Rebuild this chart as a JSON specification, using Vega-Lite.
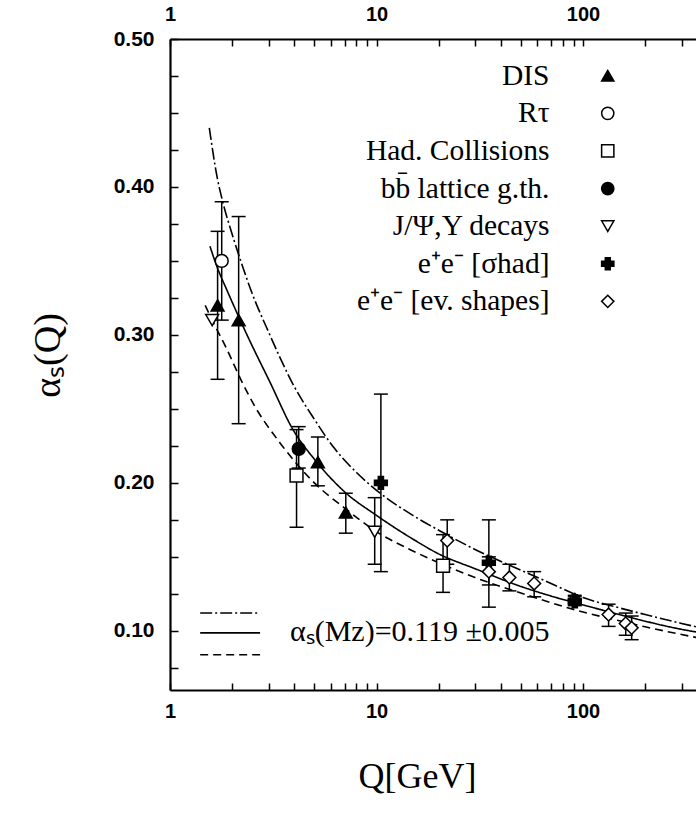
{
  "$schema": "https://vega.github.io/schema/vega-lite/v6.json",
  "width": 540,
  "height": 651,
  "autosize": {"type": "none"},
  "padding": {"left": 170, "top": 39, "right": 0, "bottom": 131},
  "background": "white",
  "config": {
    "font": "Liberation Serif",
    "view": {"stroke": null},
    "axis": {
      "grid": false,
      "domainColor": "black",
      "domainWidth": 2.2,
      "tickColor": "black",
      "tickWidth": 1.5,
      "labelFont": "Liberation Sans",
      "labelFontWeight": "bold",
      "labelFontSize": 20,
      "labelColor": "black",
      "labelFlush": false,
      "labelOverlap": false,
      "titleFont": "Liberation Serif",
      "titleFontWeight": "normal",
      "titleColor": "black"
    },
    "legend": {
      "orient": "none",
      "legendX": 423,
      "legendY": 22,
      "padding": 0,
      "labelAlign": "right",
      "labelOffset": -73,
      "labelFont": "Liberation Serif",
      "labelFontSize": 29.5,
      "labelColor": "black",
      "labelLimit": 0,
      "symbolSize": 150,
      "symbolStrokeWidth": 1.5,
      "rowPadding": 6.6
    }
  },
  "datasets": {
    "points": [
      {"exp": "DIS", "Q": 1.7, "a": 0.32, "lo": 0.27, "hi": 0.37},
      {"exp": "DIS", "Q": 2.15, "a": 0.31, "lo": 0.24, "hi": 0.38},
      {"exp": "DIS", "Q": 5.2, "a": 0.214, "lo": 0.198, "hi": 0.231},
      {"exp": "DIS", "Q": 7.1, "a": 0.18, "lo": 0.166, "hi": 0.193},
      {"exp": "Rτ", "Q": 1.78, "a": 0.35, "lo": 0.31, "hi": 0.39},
      {"exp": "Had. Collisions", "Q": 4.1, "a": 0.205, "lo": 0.17, "hi": 0.236},
      {"exp": "Had. Collisions", "Q": 21, "a": 0.144, "lo": 0.126, "hi": 0.165},
      {"exp": "bb̄ lattice g.th.", "Q": 4.2, "a": 0.223, "lo": 0.21, "hi": 0.238},
      {"exp": "J/Ψ,Y decays", "Q": 1.6, "a": 0.31, "lo": null, "hi": null},
      {"exp": "J/Ψ,Y decays", "Q": 9.8, "a": 0.167, "lo": 0.145, "hi": 0.19},
      {"exp": "e⁺e⁻ [σhad]", "Q": 10.5, "a": 0.2, "lo": 0.14, "hi": 0.26},
      {"exp": "e⁺e⁻ [σhad]", "Q": 35, "a": 0.146, "lo": 0.116, "hi": 0.175},
      {"exp": "e⁺e⁻ [ev. shapes]", "Q": 91.2, "a": 0.121, "lo": 0.118, "hi": 0.124},
      {"exp": "e⁺e⁻ [σhad]", "Q": 91.2, "a": 0.12, "lo": 0.117, "hi": 0.123},
      {"exp": "e⁺e⁻ [ev. shapes]", "Q": 22, "a": 0.161, "lo": 0.145, "hi": 0.175},
      {"exp": "e⁺e⁻ [ev. shapes]", "Q": 35, "a": 0.14, "lo": 0.131, "hi": 0.15},
      {"exp": "e⁺e⁻ [ev. shapes]", "Q": 44, "a": 0.136, "lo": 0.127, "hi": 0.145},
      {"exp": "e⁺e⁻ [ev. shapes]", "Q": 58, "a": 0.132, "lo": 0.123, "hi": 0.14},
      {"exp": "e⁺e⁻ [ev. shapes]", "Q": 133, "a": 0.111, "lo": 0.103, "hi": 0.118},
      {"exp": "e⁺e⁻ [ev. shapes]", "Q": 161, "a": 0.105, "lo": 0.097, "hi": 0.112},
      {"exp": "e⁺e⁻ [ev. shapes]", "Q": 172, "a": 0.102, "lo": 0.094, "hi": 0.11}
    ],
    "curves": [
      {"curve": "upper", "Q": 1.55, "a": 0.44},
      {"curve": "upper", "Q": 1.7, "a": 0.405},
      {"curve": "upper", "Q": 1.8, "a": 0.39},
      {"curve": "upper", "Q": 2, "a": 0.368},
      {"curve": "upper", "Q": 2.2, "a": 0.35},
      {"curve": "upper", "Q": 2.5, "a": 0.328},
      {"curve": "upper", "Q": 3, "a": 0.302},
      {"curve": "upper", "Q": 4, "a": 0.265},
      {"curve": "upper", "Q": 5, "a": 0.243},
      {"curve": "upper", "Q": 6.2, "a": 0.224},
      {"curve": "upper", "Q": 8, "a": 0.207},
      {"curve": "upper", "Q": 10, "a": 0.195},
      {"curve": "upper", "Q": 15, "a": 0.178},
      {"curve": "upper", "Q": 20, "a": 0.168},
      {"curve": "upper", "Q": 30, "a": 0.155},
      {"curve": "upper", "Q": 50, "a": 0.141},
      {"curve": "upper", "Q": 70, "a": 0.132},
      {"curve": "upper", "Q": 100, "a": 0.1225},
      {"curve": "upper", "Q": 150, "a": 0.1155},
      {"curve": "upper", "Q": 200, "a": 0.111},
      {"curve": "upper", "Q": 300, "a": 0.105},
      {"curve": "upper", "Q": 400, "a": 0.101},
      {"curve": "central", "Q": 1.56, "a": 0.36},
      {"curve": "central", "Q": 1.7, "a": 0.345},
      {"curve": "central", "Q": 1.89, "a": 0.33},
      {"curve": "central", "Q": 2.36, "a": 0.3},
      {"curve": "central", "Q": 3.05, "a": 0.268},
      {"curve": "central", "Q": 3.94, "a": 0.236},
      {"curve": "central", "Q": 5, "a": 0.216},
      {"curve": "central", "Q": 7, "a": 0.194},
      {"curve": "central", "Q": 10, "a": 0.178},
      {"curve": "central", "Q": 15, "a": 0.162},
      {"curve": "central", "Q": 20, "a": 0.152},
      {"curve": "central", "Q": 30, "a": 0.142},
      {"curve": "central", "Q": 50, "a": 0.13},
      {"curve": "central", "Q": 70, "a": 0.1235},
      {"curve": "central", "Q": 100, "a": 0.1175},
      {"curve": "central", "Q": 150, "a": 0.111},
      {"curve": "central", "Q": 200, "a": 0.1065},
      {"curve": "central", "Q": 300, "a": 0.101},
      {"curve": "central", "Q": 400, "a": 0.098},
      {"curve": "lower", "Q": 1.48, "a": 0.32},
      {"curve": "lower", "Q": 1.6, "a": 0.31},
      {"curve": "lower", "Q": 1.89, "a": 0.29},
      {"curve": "lower", "Q": 2.2, "a": 0.27},
      {"curve": "lower", "Q": 2.52, "a": 0.254},
      {"curve": "lower", "Q": 3.41, "a": 0.227},
      {"curve": "lower", "Q": 5, "a": 0.2},
      {"curve": "lower", "Q": 7, "a": 0.183},
      {"curve": "lower", "Q": 10, "a": 0.167},
      {"curve": "lower", "Q": 15, "a": 0.154},
      {"curve": "lower", "Q": 20, "a": 0.146},
      {"curve": "lower", "Q": 30, "a": 0.136},
      {"curve": "lower", "Q": 50, "a": 0.1255},
      {"curve": "lower", "Q": 70, "a": 0.119},
      {"curve": "lower", "Q": 100, "a": 0.1127},
      {"curve": "lower", "Q": 150, "a": 0.1068},
      {"curve": "lower", "Q": 200, "a": 0.1027},
      {"curve": "lower", "Q": 300, "a": 0.0975},
      {"curve": "lower", "Q": 400, "a": 0.094}
    ]
  },
  "resolve": {"axis": {"x": "independent", "y": "independent"}},
  "layer": [
    {
      "data": {"name": "curves"},
      "mark": {"type": "line", "color": "black", "strokeWidth": 1.6, "interpolate": "monotone"},
      "encoding": {
        "x": {
          "field": "Q", "type": "quantitative",
          "scale": {"type": "log", "domain": [1, 412], "nice": false},
          "axis": {
            "orient": "bottom",
            "values": [1, 2, 3, 4, 5, 6, 7, 8, 9, 10, 20, 30, 40, 50, 60, 70, 80, 90, 100, 200, 300, 400],
            "labelExpr": "indexof([1, 10, 100], datum.value) >= 0 ? format(datum.value, 'd') : ''",
            "tickSize": -7,
            "labelPadding": 18,
            "title": "Q[GeV]",
            "titleFontSize": 36,
            "titleX": 247,
            "titleY": 86,
            "titleBaseline": "middle",
            "titleAlign": "center",
            "titleAngle": 0
          }
        },
        "y": {
          "field": "a", "type": "quantitative",
          "scale": {"domain": [0.06, 0.5], "nice": false, "zero": false},
          "axis": {
            "orient": "left",
            "values": [0.075, 0.1, 0.125, 0.15, 0.175, 0.2, 0.225, 0.25, 0.275, 0.3, 0.325, 0.35, 0.375, 0.4, 0.425, 0.45, 0.475, 0.5],
            "labelExpr": "indexof([0.1, 0.2, 0.3, 0.4, 0.5], datum.value) >= 0 ? format(datum.value, '.2f') : ''",
            "labelFontSize": 21,
            "tickSize": -8,
            "labelPadding": 24,
            "title": "αₛ(Q)",
            "titleFontSize": 38,
            "titleX": -122,
            "titleY": 316,
            "titleAngle": -90,
            "titleBaseline": "middle",
            "titleAlign": "center"
          }
        },
        "strokeDash": {
          "field": "curve", "type": "nominal",
          "scale": {"domain": ["upper", "central", "lower"], "range": [[12, 3, 2, 3], [1, 0], [8, 5]]},
          "legend": null
        },
        "detail": {"field": "curve"}
      }
    },
    {
      "data": {"name": "points"},
      "transform": [{"filter": "datum.lo != null"}],
      "mark": {"type": "rule", "color": "black", "strokeWidth": 1.5},
      "encoding": {
        "x": {"field": "Q", "type": "quantitative", "scale": {"type": "log", "domain": [1, 412], "nice": false}, "axis": null},
        "y": {"field": "lo", "type": "quantitative", "scale": {"domain": [0.06, 0.5], "nice": false, "zero": false}, "axis": null},
        "y2": {"field": "hi"}
      }
    },
    {
      "data": {"name": "points"},
      "transform": [{"filter": "datum.lo != null"}],
      "mark": {"type": "point", "shape": "stroke", "size": 196, "filled": false, "stroke": "black", "strokeWidth": 1.5, "opacity": 1},
      "encoding": {
        "x": {"field": "Q", "type": "quantitative", "scale": {"type": "log", "domain": [1, 412], "nice": false}, "axis": null},
        "y": {"field": "lo", "type": "quantitative", "scale": {"domain": [0.06, 0.5], "nice": false, "zero": false}, "axis": null}
      }
    },
    {
      "data": {"name": "points"},
      "transform": [{"filter": "datum.lo != null"}],
      "mark": {"type": "point", "shape": "stroke", "size": 196, "filled": false, "stroke": "black", "strokeWidth": 1.5, "opacity": 1},
      "encoding": {
        "x": {"field": "Q", "type": "quantitative", "scale": {"type": "log", "domain": [1, 412], "nice": false}, "axis": null},
        "y": {"field": "hi", "type": "quantitative", "scale": {"domain": [0.06, 0.5], "nice": false, "zero": false}, "axis": null}
      }
    },
    {
      "data": {"name": "points"},
      "mark": {"type": "point", "filled": true, "size": 165, "strokeWidth": 1.5, "opacity": 1},
      "encoding": {
        "x": {
          "field": "Q", "type": "quantitative",
          "scale": {"type": "log", "domain": [1, 412], "nice": false},
          "axis": {
            "orient": "top",
            "values": [1, 2, 3, 4, 5, 6, 7, 8, 9, 10, 20, 30, 40, 50, 60, 70, 80, 90, 100, 200, 300, 400],
            "labelExpr": "indexof([1, 10, 100], datum.value) >= 0 ? format(datum.value, 'd') : ''",
            "tickSize": -7,
            "labelPadding": 22,
            "title": null
          }
        },
        "y": {"field": "a", "type": "quantitative", "scale": {"domain": [0.06, 0.5], "nice": false, "zero": false}, "axis": null},
        "shape": {
          "field": "exp", "type": "nominal",
          "scale": {
            "domain": ["DIS", "Rτ", "Had. Collisions", "bb̄ lattice g.th.", "J/Ψ,Y decays", "e⁺e⁻ [σhad]", "e⁺e⁻ [ev. shapes]"],
            "range": ["triangle-up", "circle", "square", "circle", "triangle-down", "cross", "diamond"]
          },
          "legend": {"title": null}
        },
        "fill": {
          "field": "exp", "type": "nominal",
          "scale": {
            "domain": ["DIS", "Rτ", "Had. Collisions", "bb̄ lattice g.th.", "J/Ψ,Y decays", "e⁺e⁻ [σhad]", "e⁺e⁻ [ev. shapes]"],
            "range": ["black", "white", "white", "black", "white", "black", "white"]
          },
          "legend": {"title": null}
        },
        "stroke": {
          "field": "exp", "type": "nominal",
          "scale": {
            "domain": ["DIS", "Rτ", "Had. Collisions", "bb̄ lattice g.th.", "J/Ψ,Y decays", "e⁺e⁻ [σhad]", "e⁺e⁻ [ev. shapes]"],
            "range": ["black", "black", "black", "black", "black", "black", "black"]
          },
          "legend": {"title": null}
        }
      }
    },
    {
      "data": {"values": [{}]},
      "mark": {"type": "rule", "color": "black", "strokeWidth": 1.5, "strokeDash": [12, 3, 2, 3]},
      "encoding": {
        "x": {"datum": 1.4, "type": "quantitative", "scale": {"type": "log", "domain": [1, 412], "nice": false}, "axis": null},
        "x2": {"datum": 2.73},
        "y": {"datum": 0.112, "type": "quantitative", "scale": {"domain": [0.06, 0.5], "nice": false, "zero": false}, "axis": null}
      }
    },
    {
      "data": {"values": [{}]},
      "mark": {"type": "rule", "color": "black", "strokeWidth": 1.6},
      "encoding": {
        "x": {"datum": 1.4, "type": "quantitative", "scale": {"type": "log", "domain": [1, 412], "nice": false}, "axis": null},
        "x2": {"datum": 2.73},
        "y": {"datum": 0.0986, "type": "quantitative", "scale": {"domain": [0.06, 0.5], "nice": false, "zero": false}, "axis": null}
      }
    },
    {
      "data": {"values": [{}]},
      "mark": {"type": "rule", "color": "black", "strokeWidth": 1.5, "strokeDash": [8, 5]},
      "encoding": {
        "x": {"datum": 1.4, "type": "quantitative", "scale": {"type": "log", "domain": [1, 412], "nice": false}, "axis": null},
        "x2": {"datum": 2.73},
        "y": {"datum": 0.0838, "type": "quantitative", "scale": {"domain": [0.06, 0.5], "nice": false, "zero": false}, "axis": null}
      }
    },
    {
      "data": {"values": [{}]},
      "mark": {"type": "text", "text": "αₛ(Mᴢ)=0.119 ±0.005", "font": "Liberation Serif", "fontSize": 30, "align": "left", "baseline": "middle", "color": "black"},
      "encoding": {
        "x": {"datum": 3.81, "type": "quantitative", "scale": {"type": "log", "domain": [1, 412], "nice": false}, "axis": null},
        "y": {"datum": 0.0993, "type": "quantitative", "scale": {"domain": [0.06, 0.5], "nice": false, "zero": false}, "axis": null}
      }
    }
  ]
}
